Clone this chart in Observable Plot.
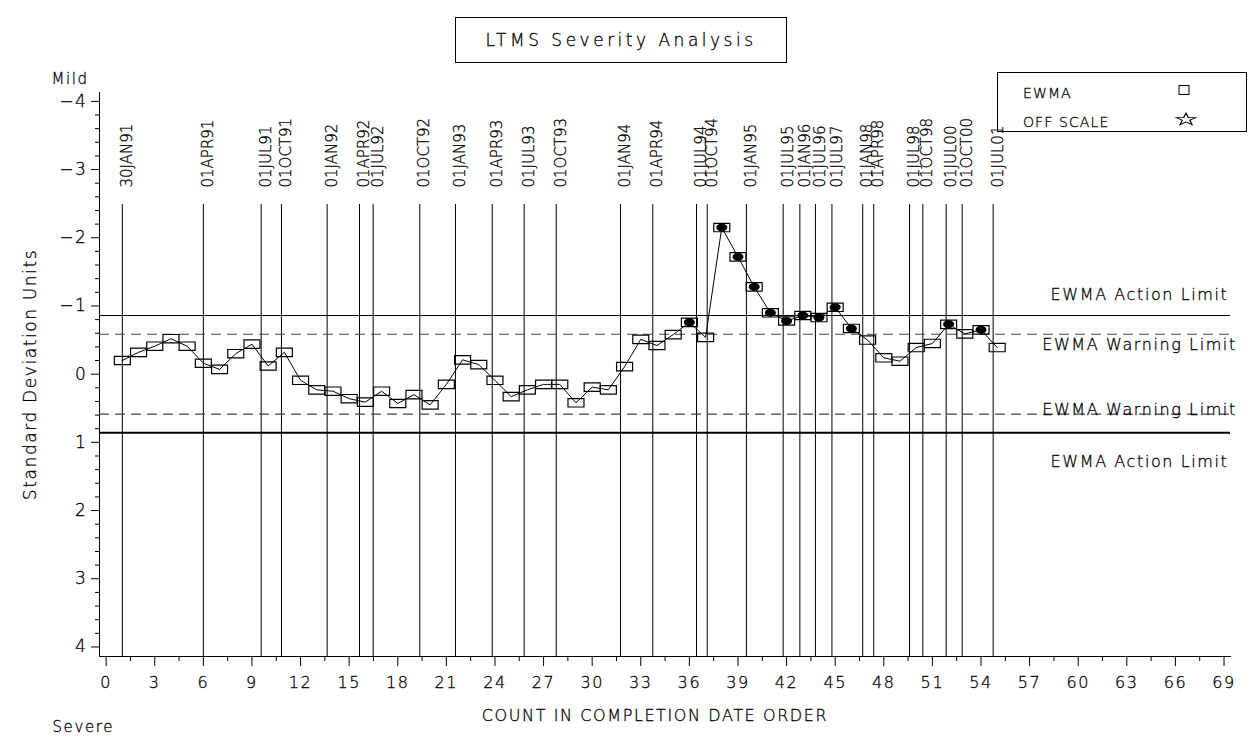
<!DOCTYPE html>
<html>
<head>
<meta charset="utf-8">
<script src="https://cdn.jsdelivr.net/npm/d3@7"></script>
<script src="https://cdn.jsdelivr.net/npm/@observablehq/plot@0.6"></script>
<style>
  body { margin: 0; background: #fff; }
  #wrap { position: relative; width: 1253px; height: 740px; font-family: "DejaVu Sans", sans-serif; color: #000; overflow: hidden; }
  #chart svg { font-family: "DejaVu Sans", sans-serif; font-weight: 200; }
  #chart svg text { stroke: #000; stroke-width: 0.3px; }
  .title { position: absolute; left: 455px; top: 17px; width: 332px; height: 46px; border: 1px solid #000; box-sizing: border-box;
           display: flex; align-items: center; justify-content: center; font-size: 17px; letter-spacing: 3.5px; font-weight: 200;
           -webkit-text-stroke: 0.3px #000; }
  .legend { position: absolute; left: 997px; top: 72px; width: 250px; height: 60px; border: 1px solid #000; box-sizing: border-box; }
  .legend .lab { position: absolute; left: 25px; font-size: 14px; letter-spacing: 1.1px; font-weight: 200; transform: translateY(-50%);
                 -webkit-text-stroke: 0.3px #000; }
  .legend svg { position: absolute; left: 0; top: 0; }
  .sp text { letter-spacing: 1.6px; }
</style>
</head>
<body>
<div id="wrap">
  <div id="chart"></div>
  <div class="title">LTMS Severity Analysis</div>
  <div class="legend" id="legend"></div>
</div>
<script>
// ---- data ----
const ewma = [
  -0.20, -0.32, -0.41, -0.52, -0.41, -0.16, -0.07, -0.30, -0.44, -0.12,
  -0.32,  0.09,  0.23,  0.25,  0.36,  0.41,  0.25,  0.43,  0.30,  0.45,
   0.15, -0.21, -0.14,  0.09,  0.33,  0.23,  0.15,  0.15,  0.42,  0.19,
   0.23, -0.11, -0.51, -0.42, -0.58, -0.76, -0.54, -2.15, -1.72, -1.28,
  -0.90, -0.78, -0.86, -0.83, -0.98, -0.67, -0.50, -0.24, -0.19, -0.39,
  -0.45, -0.73, -0.59, -0.65, -0.39
];
const flaggedCounts = [36, 38, 39, 40, 41, 42, 43, 44, 45, 46, 52, 54];
const dateLabels = ["30JAN91","01APR91","01JUL91","01OCT91","01JAN92","01APR92","01JUL92","01OCT92",
  "01JAN93","01APR93","01JUL93","01OCT93","01JAN94","01APR94","01JUL94","01OCT94","01JAN95",
  "01JUL95","01JAN96","01JUL96","01JUL97","01JAN98","01APR98","01JUL98","01OCT98","01JUL00","01OCT00","01JUL01"];
const datePositions = [1.0, 6.0, 9.57, 10.82, 13.64, 15.64, 16.48, 19.36,
  21.56, 23.83, 25.8, 27.78, 31.75, 33.74, 36.44, 37.1, 39.52,
  41.79, 42.82, 43.78, 44.8, 46.7, 47.38, 49.59, 50.41, 51.85, 52.84, 54.75];
const actionLimit = 0.86;
const warningLimit = 0.585;
const xTicks = [0,3,6,9,12,15,18,21,24,27,30,33,36,39,42,45,48,51,54,57,60,63,66,69];
const yTicks = [-4,-3,-2,-1,0,1,2,3,4];

// ---- derived tables ----
const points = ewma.map((v, i) => ({count: i + 1, value: v}));
const flagged = points.filter(d => flaggedCounts.includes(d.count));
const dates = dateLabels.map((t, i) => ({label: t, pos: datePositions[i]}));
const xMinor = xTicks.slice(0, -1).map(t => t + 1.5);
const yMinor = [];
for (let i = 0; i < yTicks.length - 1; i++) for (let k = 1; k <= 4; k++) yMinor.push(+(yTicks[i] + k * 0.2).toFixed(1));
const intFmt = d => (d < 0 ? "\u2212" : "") + Math.abs(d);

// custom symbols (style only)
const rectSym = {draw(ctx) { ctx.moveTo(-8, -4.2); ctx.lineTo(8, -4.2); ctx.lineTo(8, 4.2); ctx.lineTo(-8, 4.2); ctx.closePath(); }};
const ellSym = {draw(ctx) {
  const a = 5.5, b = 4, k = 0.5523;
  ctx.moveTo(a, 0);
  ctx.bezierCurveTo(a, k*b, k*a, b, 0, b);
  ctx.bezierCurveTo(-k*a, b, -a, k*b, -a, 0);
  ctx.bezierCurveTo(-a, -k*b, -k*a, -b, 0, -b);
  ctx.bezierCurveTo(k*a, -b, a, -k*b, a, 0);
  ctx.closePath();
}};

const chart = Plot.plot({
  width: 1253, height: 740,
  marginLeft: 99, marginRight: 23, marginTop: 92, marginBottom: 84,
  style: {fontSize: "15px", color: "#000", background: "#fff"},
  x: {domain: [-0.41, 69.4], label: null},
  y: {domain: [-4.13, 4.14], reverse: true, label: null},
  marks: [
    Plot.frame({anchor: "left", stroke: "#000"}),
    Plot.frame({anchor: "bottom", stroke: "#000"}),
    Plot.axisX(xTicks, {tickSize: 10, tickPadding: 10, fontSize: 16, label: null, className: "sp"}),
    Plot.axisX(xMinor, {tickSize: 5, text: null, label: null}),
    Plot.axisY(yTicks, {tickSize: 8, tickPadding: 4, fontSize: 17, tickFormat: intFmt, label: null, className: "sp"}),
    Plot.axisY(yMinor, {tickSize: 4, text: null, label: null}),
    // date reference lines
    Plot.ruleX(dates, {x: "pos", insetTop: 112, stroke: "#000", strokeWidth: 1}),
    Plot.text(dates, {x: "pos", text: "label", rotate: -90, textAnchor: "start", frameAnchor: "top", dy: 95, dx: -1, fontSize: 15}),
    // limits
    Plot.ruleY([-actionLimit], {stroke: "#000", strokeWidth: 1}),
    Plot.ruleY([actionLimit], {stroke: "#000", strokeWidth: 2}),
    Plot.ruleY([-warningLimit, warningLimit], {stroke: "#444", strokeWidth: 1.2, strokeDasharray: "10,6"}),
    Plot.text(["EWMA Action Limit"], {y: [-actionLimit], text: d => d, frameAnchor: "right", textAnchor: "middle", dx: -91, dy: -21, fontSize: 16, className: "sp"}),
    Plot.text(["EWMA Warning Limit"], {y: [-warningLimit], text: d => d, frameAnchor: "right", textAnchor: "middle", dx: -91, dy: 11, fontSize: 16, className: "sp"}),
    Plot.text(["EWMA Warning Limit"], {y: [warningLimit], text: d => d, frameAnchor: "right", textAnchor: "middle", dx: -91, dy: -4, fontSize: 16, className: "sp"}),
    Plot.text(["EWMA Action Limit"], {y: [actionLimit], text: d => d, frameAnchor: "right", textAnchor: "middle", dx: -91, dy: 29, fontSize: 16, className: "sp"}),
    // series
    Plot.line(points, {x: "count", y: "value", stroke: "#000", strokeWidth: 1}),
    Plot.dot(points, {x: "count", y: "value", symbol: rectSym, r: 5, stroke: "#000", fill: "none", strokeWidth: 1.2}),
    Plot.dot(flagged, {x: "count", y: "value", symbol: ellSym, r: 5, fill: "#000", stroke: "none"}),
    // axis titles
    Plot.text(["Standard Deviation Units"], {text: d => d, frameAnchor: "left", textAnchor: "middle", rotate: -90, dx: -69, fontSize: 17, className: "sp"}),
    Plot.text(["COUNT IN COMPLETION DATE ORDER"], {text: d => d, frameAnchor: "bottom", textAnchor: "middle", dx: -10, dy: 64, fontSize: 16, className: "sp"}),
    Plot.text(["Mild"], {text: d => d, frameAnchor: "top-left", textAnchor: "start", dx: -48, dy: -19, fontSize: 15, className: "sp"}),
    Plot.text(["Severe"], {text: d => d, frameAnchor: "bottom-left", textAnchor: "start", dx: -47, dy: 75, fontSize: 15, className: "sp"})
  ]
});
document.getElementById("chart").appendChild(chart);

// legend
const legendItems = [{label: "EWMA", symbol: "square"}, {label: "OFF SCALE", symbol: "star"}];
const lg = document.getElementById("legend");
const lsvg = d3.select(lg).append("svg").attr("width", 250).attr("height", 60);
legendItems.forEach((it, i) => {
  const cy = i === 0 ? 19.5 : 48.5;
  const lab = document.createElement("div");
  lab.className = "lab"; lab.style.top = cy + "px"; lab.textContent = it.label;
  lg.appendChild(lab);
  if (it.symbol === "square") {
    lsvg.append("rect").attr("x", 181).attr("y", cy - 7).attr("width", 10).attr("height", 9).attr("fill", "none").attr("stroke", "#000");
  } else {
    lsvg.append("path").attr("d", d3.symbol(d3.symbolStar, 70)()).attr("transform", `translate(188,${cy - 2}) scale(1.3,0.8)`)
      .attr("fill", "none").attr("stroke", "#000").attr("stroke-width", 1);
  }
});
</script>
</body>
</html>
